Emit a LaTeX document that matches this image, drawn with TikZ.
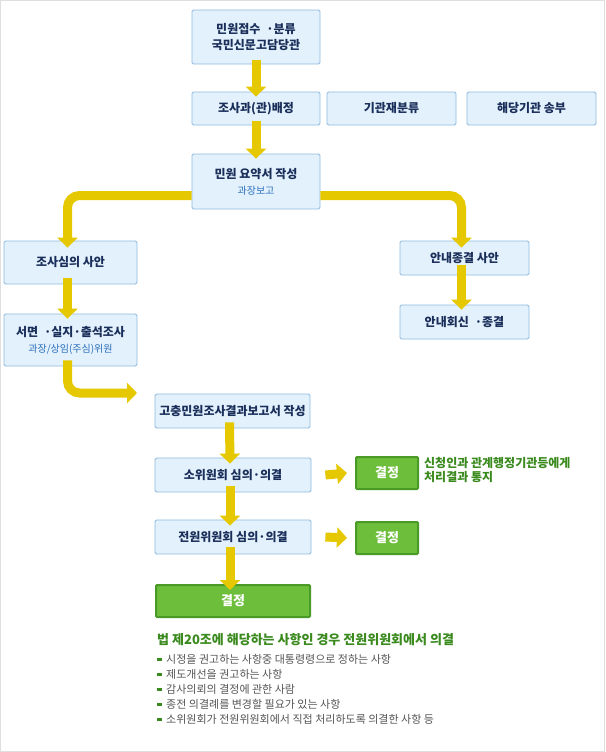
\documentclass[tikz,border=0pt]{standalone}
\usepackage{fontspec}
\setmainfont{Noto Sans CJK KR}
\usetikzlibrary{arrows.meta}
\definecolor{yel}{HTML}{E6C800}
\definecolor{bfill}{HTML}{E3F1FC}
\definecolor{bdraw}{HTML}{8DB9DF}
\definecolor{navy}{HTML}{1A2E5A}
\definecolor{sub}{HTML}{2A6EBB}
\definecolor{gfill}{HTML}{6DBE3B}
\definecolor{gdraw}{HTML}{4A9A28}
\definecolor{gtext}{HTML}{3A8A1E}
\definecolor{gray1}{HTML}{555555}
\begin{document}
\begin{tikzpicture}[x=1pt,y=-1pt,
 box/.style={draw=bdraw,fill=bfill,rounded corners=1.5pt,line width=0.8pt,text=navy,font=\fontsize{12}{16}\selectfont\bfseries,align=center,inner sep=0pt},
 gbox/.style={draw=gdraw,fill=gfill,line width=2pt,rounded corners=1pt,text=white,font=\fontsize{13}{15}\selectfont\bfseries,inner sep=0pt},
 yarr/.style={yel,line width=9pt,-{Triangle[width=20pt,length=10pt]}},
 ycurve/.style={yel,line width=9pt,rounded corners=12pt,-{Triangle[width=20pt,length=10pt]}}]
\fill[white] (0,0) rectangle (605,752);
\draw[gray!25,line width=1pt] (0.5,0.5) rectangle (604.5,751.5);
\newcommand\bx[6]{\node[box,minimum width=#4-#2,minimum height=#5-#3] (#1) at ({(#2+#4)/2},{(#3+#5)/2}) {#6};}
\newcommand\gb[6]{\node[gbox,minimum width=#4-#2,minimum height=#5-#3] (#1) at ({(#2+#4)/2},{(#3+#5)/2}) {#6};}
\bx{A}{192}{10}{320}{64}{민원접수\enspace·분류\\국민신문고담당관}
\bx{B}{192}{92}{320}{125}{조사과(관)배정}
\bx{C}{327}{92}{456}{125}{기관재분류}
\bx{D}{467}{92}{596}{125}{해당기관 송부}
\bx{E}{192}{154}{320}{209}{민원 요약서 작성\\{\color{sub}\fontsize{10}{14}\selectfont\mdseries 과장보고}}
\bx{F}{4}{241}{137}{284}{조사심의 사안}
\bx{G}{4}{314}{137}{366}{서면\enspace·실지·출석조사\\{\color{sub}\fontsize{10}{14}\selectfont\mdseries 과장/상임(주심)위원}}
\bx{H}{400}{241}{529}{275}{안내종결 사안}
\bx{I}{400}{305}{529}{339}{안내회신\enspace·종결}
\bx{J}{155}{394}{310}{428}{고충민원조사결과보고서 작성}
\bx{K}{155}{458}{311}{492}{소위원회 심의·의결}
\bx{L}{155}{520}{311}{554}{전원위원회 심의·의결}
\gb{M}{156}{585}{310}{617}{결정}
\gb{N}{356}{457}{418}{489}{결정}
\gb{O}{356}{522}{418}{554}{결정}
\draw[yarr] ([yshift=4pt]A.south) -- ([yshift=-5pt]B.north);
\draw[yarr] ([yshift=4pt]B.south) -- ([yshift=-5pt]E.north);
\draw[ycurve] ([yshift=-14pt]E.west) -| ([xshift=-3pt,yshift=-7pt]F.north);
\draw[ycurve] ([yshift=-14pt]E.east) -| ([xshift=-3pt,yshift=-7pt]H.north);
\draw[yarr] ([xshift=-3pt,yshift=6pt]F.south) -- ([xshift=-3pt,yshift=-5pt]G.north);
\draw[yarr] ([xshift=-3pt,yshift=10pt]H.south) -- ([xshift=-3pt,yshift=-5pt]I.north);
\coordinate (g1) at ([xshift=-3pt,yshift=6pt]G.south);
\draw[ycurve] (g1) |- (137,393);
\draw[yarr] ([xshift=-3pt,yshift=6pt]J.south) -- ([xshift=-3pt,yshift=-6pt]K.north);
\draw[yarr] ([xshift=-3pt,yshift=6pt]K.south) -- ([xshift=-3pt,yshift=-6pt]L.north);
\draw[yarr] ([xshift=-3pt,yshift=7pt]L.south) -- ([xshift=-3pt,yshift=-6pt]M.north);
\draw[yarr] ([xshift=14pt]K.east) -- ([xshift=-8pt]N.west);
\draw[yarr] ([xshift=14pt]L.east) -- ([xshift=-8pt]O.west);
\node[anchor=north west,text=gtext,font=\fontsize{12}{14}\selectfont\bfseries,align=left,inner sep=0pt] (nt) at (424,457) {신청인과 관계행정기관등에게\\처리결과 통지};
\node[anchor=north west,text=gtext,font=\fontsize{13}{15}\selectfont\bfseries,inner sep=0pt] (law) at (157,633) {법 제20조에 해당하는 사항인 경우 전원위원회에서 의결};
\foreach \t [count=\i] in {시정을 권고하는 사항중 대통령령으로 정하는 사항,제도개선을 권고하는 사항,감사의뢰의 결정에 관한 사람,종전 의결례를 변경할 필요가 있는 사항,소위원회가 전원위원회에서 직접 처리하도록 의결한 사항 등}{
 \fill[gtext] (157,{642.5+\i*15}) rectangle (162,{645.5+\i*15});
 \node[anchor=west,text=gray1,font=\fontsize{11}{13}\selectfont,inner sep=0pt] (b\i) at (166,{644+\i*15}) {\t};
}
\end{tikzpicture}
\end{document}
